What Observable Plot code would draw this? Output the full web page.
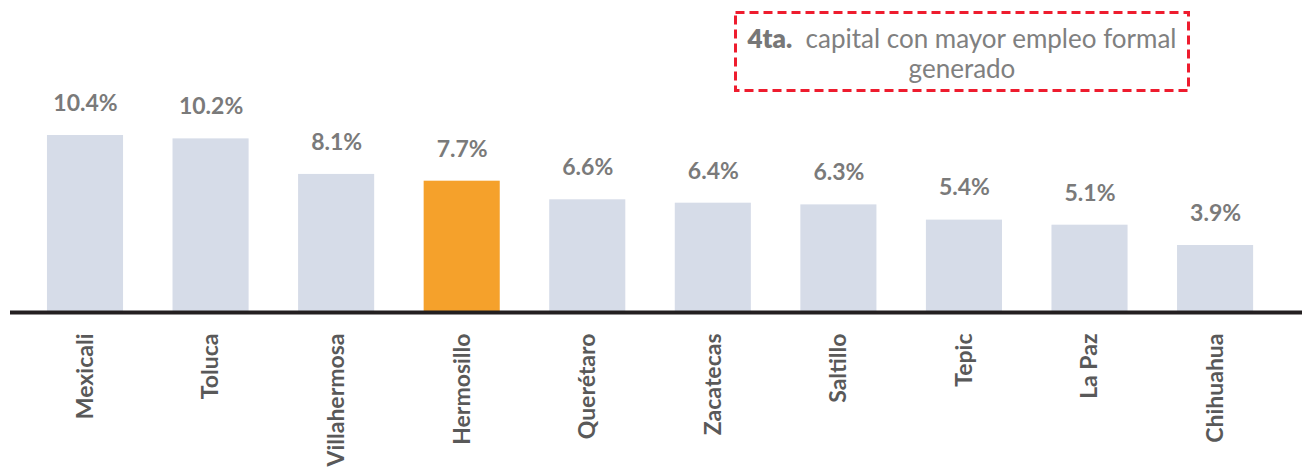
<!DOCTYPE html>
<html>
<head>
<meta charset="utf-8">
<script src="https://cdn.jsdelivr.net/npm/d3@7"></script>
<script src="https://cdn.jsdelivr.net/npm/@observablehq/plot@0.6"></script>
<style>
  body { margin: 0; background: #fff; }
  #wrap { position: relative; width: 1302px; height: 470px; overflow: hidden; }
  .note { position: absolute; left: 734px; top: 11px; width: 456px; height: 81px; font-family: Lato, "Open Sans", sans-serif; color: #808080; font-size: 26px; }
  .note svg { position: absolute; left: 0; top: 0; }
  .note .txt { position: absolute; left: 0; top: 12px; width: 100%; text-align: center; line-height: 30px; white-space: nowrap; }
  .note b { font-weight: 800; color: #777; }
</style>
</head>
<body>
<div id="wrap">
  <div id="chart"></div>
  <div class="note">
    <svg width="456" height="81"><rect x="1.5" y="1.5" width="453" height="78" fill="none" stroke="#ee1c2e" stroke-width="3" stroke-dasharray="9,5"/></svg>
    <div class="txt"><b>4ta.</b>&nbsp; capital con mayor empleo formal<br>generado</div>
  </div>
</div>
<script>
const cities = ["Mexicali", "Toluca", "Villahermosa", "Hermosillo", "Querétaro", "Zacatecas", "Saltillo", "Tepic", "La Paz", "Chihuahua"];
const values = [10.4, 10.2, 8.1, 7.7, 6.6, 6.4, 6.3, 5.4, 5.1, 3.9];
const highlight = "Hermosillo";

const data = cities.map((c, i) => ({city: c, value: values[i]}));

const chart = Plot.plot({
  width: 1302,
  height: 470,
  marginLeft: 0,
  marginRight: 0,
  marginTop: 135,
  marginBottom: 159,
  style: {fontFamily: "Lato, 'Open Sans', sans-serif", background: "#fff"},
  x: {domain: cities, paddingInner: 0.394, paddingOuter: 0.3816, align: 0.49, round: false, axis: null},
  y: {domain: [0, 10.4], axis: null},
  marks: [
    Plot.barY(data, {x: "city", y: "value", fill: d => d.city === highlight ? "#f5a12b" : "#d6dce8"}),
    Plot.ruleY([0], {stroke: "#231f20", strokeWidth: 4, insetLeft: 10, dy: 1}),
    Plot.text(data, {x: "city", y: "value", text: d => d.value.toFixed(1) + "%", dy: -32, fill: "#7a7a7a", fontSize: 23, fontWeight: "bold"}),
    Plot.text(data, {x: "city", y: 0, text: "city", rotate: -90, textAnchor: "end", dy: 22, fill: "#595959", fontSize: 23, fontWeight: "bold"})
  ]
});
document.getElementById("chart").appendChild(chart);
</script>
</body>
</html>
